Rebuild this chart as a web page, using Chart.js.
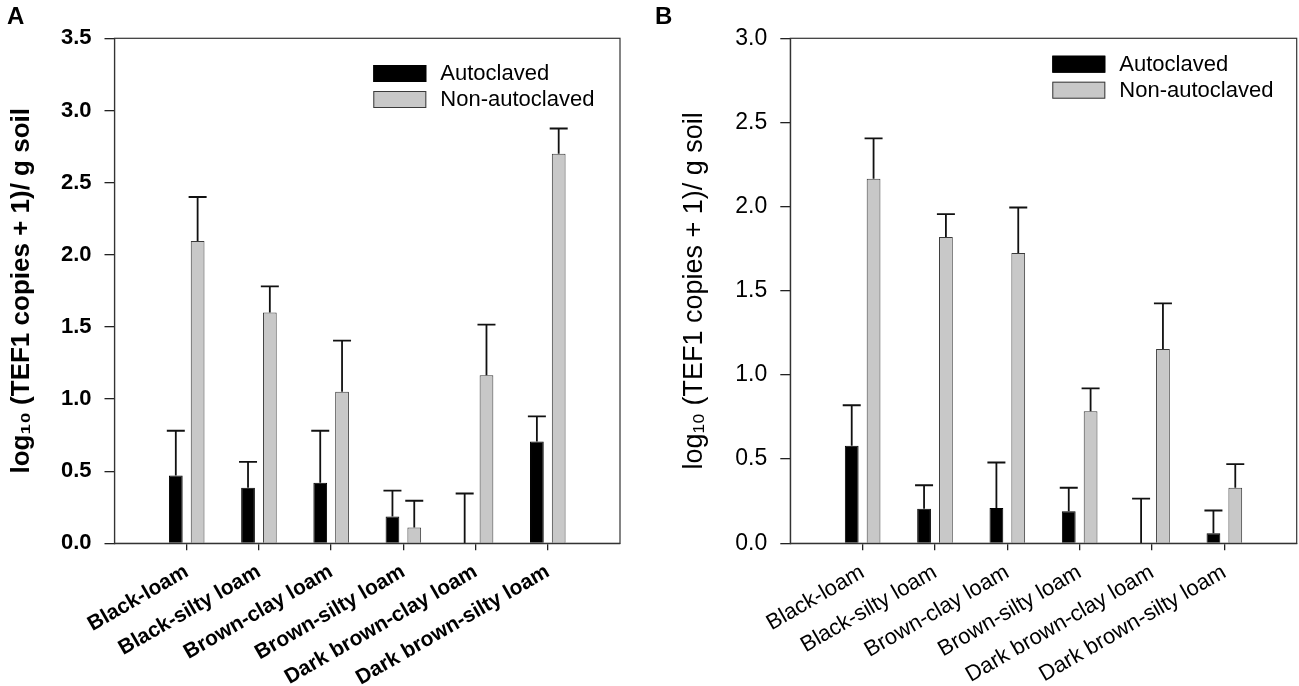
<!DOCTYPE html>
<html><head><meta charset="utf-8">
<script src="https://cdn.jsdelivr.net/npm/chart.js@4.4.1/dist/chart.umd.min.js"></script>
<style>
html,body{margin:0;padding:0;background:#fff;}
#wrap{position:relative;width:1299px;height:686px;overflow:hidden;background:#fff;}
canvas{position:absolute;top:0;}
#cA{left:0;} #cB{left:650px;}
.panel{position:absolute;font:bold 24px "Liberation Sans",Arial,sans-serif;line-height:24px;color:#000;}
</style></head><body>
<div id="wrap">
<canvas id="cA" width="650" height="686"></canvas>
<canvas id="cB" width="649" height="686"></canvas>
<div class="panel" style="left:7px;top:4px">A</div>
<div class="panel" style="left:655px;top:4px">B</div>
</div>
<script>
// ---- data ----
const categories = ['Black-loam','Black-silty loam','Brown-clay loam','Brown-silty loam','Dark brown-clay loam','Dark brown-silty loam'];
const seriesNames = ['Autoclaved','Non-autoclaved'];
const yTitle = 'log\u2081\u2080 (TEF1 copies + 1)/ g soil';

const yTicksA = [0, 0.5, 1.0, 1.5, 2.0, 2.5, 3.0, 3.5];
const autoA    = [0.47, 0.385, 0.42, 0.185, 0.0, 0.705];
const autoErrA = [0.31, 0.18, 0.36, 0.18, 0.345, 0.175];
const nonA     = [2.095, 1.60, 1.05, 0.11, 1.165, 2.70];
const nonErrA  = [0.305, 0.18, 0.355, 0.185, 0.35, 0.175];

const yTicksB = [0, 0.5, 1.0, 1.5, 2.0, 2.5, 3.0];
const autoB    = [0.58, 0.205, 0.21, 0.19, 0.0, 0.06];
const autoErrB = [0.24, 0.14, 0.27, 0.14, 0.265, 0.135];
const nonB     = [2.165, 1.82, 1.725, 0.785, 1.155, 0.33];
const nonErrB  = [0.24, 0.135, 0.27, 0.135, 0.27, 0.14];

// ---- plugins ----
const errorBars = {
  id: 'errorBars',
  afterDatasetsDraw(chart) {
    const ctx = chart.ctx, ys = chart.scales.y;
    chart.data.datasets.forEach((ds, di) => {
      const meta = chart.getDatasetMeta(di);
      meta.data.forEach((el, i) => {
        const v = ds.data[i].y, e = ds.errors[i];
        const yv = ys.getPixelForValue(v), ye = ys.getPixelForValue(v + e);
        ctx.save();
        ctx.strokeStyle = '#111'; ctx.lineWidth = 1.8;
        ctx.beginPath();
        ctx.moveTo(el.x, yv); ctx.lineTo(el.x, ye);
        ctx.moveTo(el.x - 9, ye); ctx.lineTo(el.x + 9, ye);
        ctx.stroke();
        ctx.restore();
      });
    });
  }
};
const frame = {
  id: 'frame',
  afterDraw(chart) {
    const {left, top, right, bottom} = chart.chartArea, ctx = chart.ctx;
    ctx.save(); ctx.strokeStyle = '#333'; ctx.lineWidth = 1.2;
    ctx.strokeRect(left, top, right - left, bottom - top);
    ctx.restore();
  }
};
const boxLegend = {
  id: 'boxLegend',
  afterDraw(chart, args, opts) {
    const ctx = chart.ctx, ca = chart.chartArea;
    const x = ca.right - opts.fromRight, y0 = ca.top + opts.fromTop;
    chart.data.datasets.forEach((ds, i) => {
      const y = y0 + i * opts.step;
      ctx.save();
      ctx.fillStyle = ds.backgroundColor; ctx.strokeStyle = ds.borderColor; ctx.lineWidth = 1;
      ctx.fillRect(x, y, 53, 17); ctx.strokeRect(x + 0.5, y + 0.5, 52, 16);
      ctx.fillStyle = '#000'; ctx.font = opts.font; ctx.textBaseline = 'middle'; ctx.textAlign = 'left';
      ctx.fillText(ds.label, x + 67, y + 9);
      ctx.restore();
    });
  }
};

function makeChart(id, autoV, autoE, nonV, nonE, yTicks, cfg) {
  const F = '"Liberation Sans", Arial, sans-serif';
  return new Chart(document.getElementById(id), {
    type: 'bar',
    data: {
      datasets: [
        { label: seriesNames[0], data: categories.map((c, i) => ({x: i + 1, y: autoV[i]})), errors: autoE,
          backgroundColor: '#000000', borderColor: '#000000', borderWidth: 1 },
        { label: seriesNames[1], data: categories.map((c, i) => ({x: i + 1, y: nonV[i]})), errors: nonE,
          backgroundColor: '#c8c8c8', borderColor: '#3a3a3a', borderWidth: 1 }
      ]
    },
    options: {
      responsive: false, animation: false,
      categoryPercentage: 0.604, barPercentage: 0.63,
      layout: { padding: { top: 38.3, right: cfg.padRight, bottom: 0, left: 0 } },
      plugins: {
        legend: { display: false }, tooltip: { enabled: false },
        boxLegend: { fromRight: cfg.legRight, fromTop: cfg.legTop, step: 26, font: '22px ' + F }
      },
      scales: {
        x: {
          type: 'linear', min: 0, max: 7, offset: false,
          afterBuildTicks(s) { s.ticks = categories.map((c, i) => ({value: i + 1})); },
          afterFit(s) { s.height = 686 - 543.3; },
          ticks: { callback: v => categories[v - 1] ?? '', minRotation: 30, maxRotation: 30, autoSkip: false,
                   color: '#000', padding: 9, font: { family: F, size: cfg.xFont, weight: cfg.weight } },
          grid: { offset: false, drawOnChartArea: false, drawTicks: true, tickLength: 7, color: '#222', lineWidth: 1.3 },
          border: { display: true, color: '#333', width: 1.2 }
        },
        y: {
          min: yTicks[0], max: yTicks[yTicks.length - 1],
          afterBuildTicks(s) { s.ticks = yTicks.map(v => ({value: v})); },
          afterFit(s) { s.width = cfg.axisLeft; },
          ticks: { callback: v => Number(v).toFixed(1), color: '#000', padding: 13,
                   font: { family: F, size: cfg.yFont, weight: cfg.weight } },
          grid: { drawOnChartArea: false, drawTicks: true, tickLength: 10, color: '#222', lineWidth: 1.3 },
          border: { display: true, color: '#333', width: 1.2 },
          title: { display: true, text: yTitle, color: '#000', padding: { top: cfg.titlePad, bottom: 0 },
                   font: { family: F, size: cfg.titleFont, weight: cfg.weight } }
        }
      }
    },
    plugins: [errorBars, frame, boxLegend]
  });
}

makeChart('cA', autoA, autoErrA, nonA, nonErrA, yTicksA,
  { padRight: 30, axisLeft: 114.5, legRight: 246.7, legTop: 26.7, xFont: 21, yFont: 22, titleFont: 26, titlePad: 6, weight: 'bold' });
makeChart('cB', autoB, autoErrB, nonB, nonErrB, yTicksB,
  { padRight: 2.3, axisLeft: 140.3, legRight: 244.4, legTop: 17.4, xFont: 22, yFont: 23, titleFont: 27, titlePad: 28, weight: 'normal' });
</script>
</body></html>
